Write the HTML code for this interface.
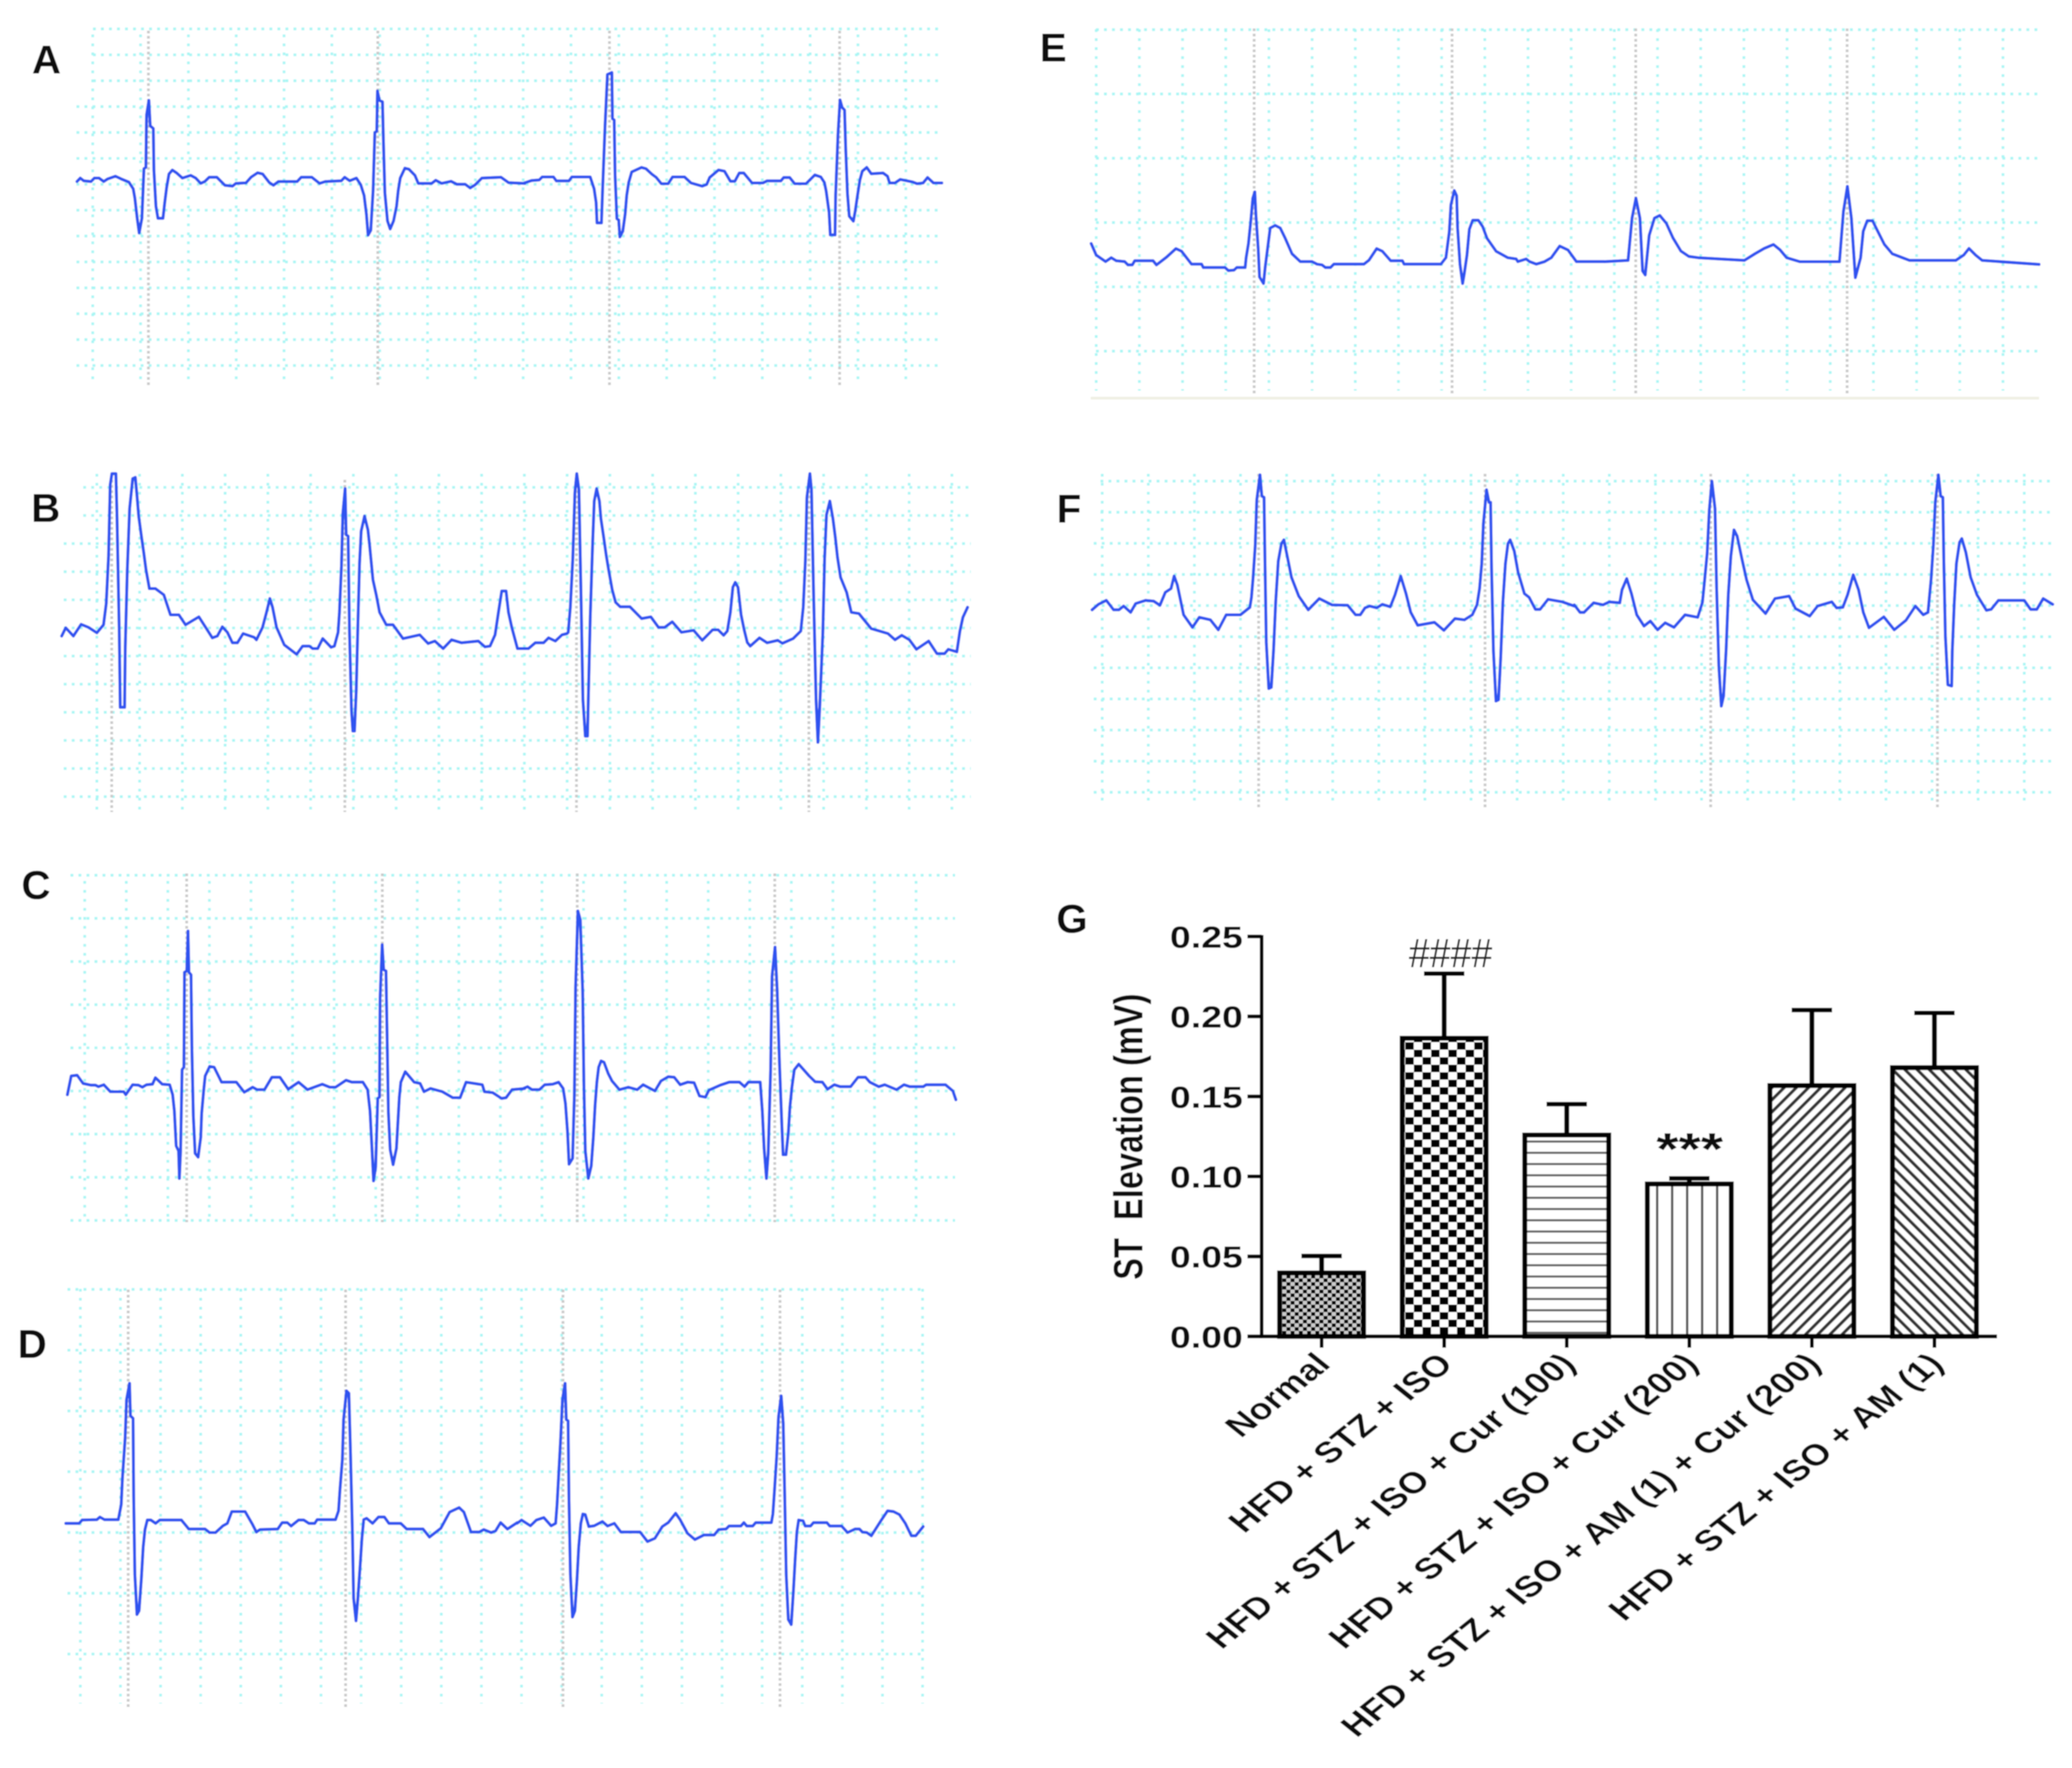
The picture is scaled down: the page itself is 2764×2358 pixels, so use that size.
<!DOCTYPE html>
<html lang="en">
<head>
<meta charset="utf-8">
<title>ECG traces and ST elevation chart</title>
<style>
html,body{margin:0;padding:0;background:#fff;}
svg{display:block;}
text{font-family:"Liberation Sans",Arial,sans-serif;}
.panel-letter{font-weight:700;font-size:54px;fill:#111;}
</style>
</head>
<body>
<svg id="figure" xmlns="http://www.w3.org/2000/svg" width="2764" height="2358" viewBox="0 0 2764 2358">
  <defs>
    <filter id="soft" x="0" y="0" width="100%" height="100%" filterUnits="objectBoundingBox"><feGaussianBlur stdDeviation="0.9"/></filter>
    <pattern id="fill-fine-check" patternUnits="userSpaceOnUse" width="11" height="10">
      <rect width="11" height="10" fill="#ccc"/><rect width="5.5" height="5" fill="#000"/><rect x="5.5" y="5" width="5.5" height="5" fill="#000"/>
    </pattern>
    <pattern id="fill-coarse-check" patternUnits="userSpaceOnUse" width="23" height="20">
      <rect width="23" height="20" fill="#fff"/><rect width="11.5" height="10" fill="#000"/><rect x="11.5" y="10" width="11.5" height="10" fill="#000"/>
    </pattern>
    <pattern id="fill-horizontal" patternUnits="userSpaceOnUse" width="10" height="15">
      <rect width="10" height="15" fill="#fff"/><rect y="6" width="10" height="3" fill="#666"/>
    </pattern>
    <pattern id="fill-vertical" patternUnits="userSpaceOnUse" width="20" height="10">
      <rect width="20" height="10" fill="#fff"/><rect x="9" width="3.2" height="10" fill="#555"/>
    </pattern>
    <pattern id="fill-diag-up" patternUnits="userSpaceOnUse" width="11.5" height="11.5" patternTransform="rotate(45)">
      <rect width="11.5" height="11.5" fill="#fff"/><rect x="4" width="4.2" height="11.5" fill="#333"/>
    </pattern>
    <pattern id="fill-diag-down" patternUnits="userSpaceOnUse" width="11.5" height="11.5" patternTransform="rotate(-45)">
      <rect width="11.5" height="11.5" fill="#fff"/><rect x="4" width="4.2" height="11.5" fill="#333"/>
    </pattern>
  </defs>
  <g id="root" filter="url(#soft)">
    <rect x="0" y="0" width="2764" height="2358" fill="#fff"/>
    <g id="ecg-layer"></g>
    <g id="letters">
      <text class="panel-letter" x="62" y="98" text-anchor="middle">A</text>
      <text class="panel-letter" x="61" y="696" text-anchor="middle">B</text>
      <text class="panel-letter" x="48" y="1199" text-anchor="middle">C</text>
      <text class="panel-letter" x="43" y="1811" text-anchor="middle">D</text>
      <text class="panel-letter" x="1405" y="82" text-anchor="middle">E</text>
      <text class="panel-letter" x="1426" y="697" text-anchor="middle">F</text>
      <text class="panel-letter" x="1430" y="1244" text-anchor="middle">G</text>
    </g>
    <g id="bar-chart"></g>
  </g>
</svg>
<script>
/* ---------- ECG samples: [time ms, amplitude uV] ---------- */
const traceA1=[[230,322],[240,335],[250,325],[272,322],[282,335],[296,335],[310,322],[322,332],[345,342],[362,332],[385,320],[398,295],[403,260],[410,185],[416,130],[424,185],[430,370],[436,375],[438,570],[445,625],[449,530],[458,520],[460,365],[466,230],[472,185],[487,185],[492,240],[498,300],[505,350],[515,365],[527,355],[545,335],[570,345],[585,335],[600,315],[612,322],[625,338],[648,338],[672,308],[695,305],[705,315],[735,317],[750,338],[770,355],[785,350],[805,318],[817,308],[832,322],[888,322],[900,338],[932,338],[955,315],[972,322],[1020,325],[1030,338],[1045,325],[1065,335],[1078,310],[1088,270],[1095,200],[1100,122],[1108,140],[1115,288],[1120,505],[1126,510],[1128,660],[1134,625],[1143,620],[1146,460],[1150,280],[1158,175],[1166,145],[1176,175],[1185,230],[1190,288],[1196,335],[1210,372],[1222,368],[1240,345],[1250,315],[1290,315],[1302,327],[1320,315],[1348,323],[1365,312],[1390,312],[1405,298],[1420,310],[1440,335],[1497,338],[1520,318],[1568,315]];
const traceA2=[[100,448],[125,458],[150,460],[160,472],[198,472],[208,456],[250,456],[260,472],[322,472],[335,425],[342,370],[345,288],[360,288],[364,425],[372,675],[380,882],[395,890],[397,705],[403,700],[406,480],[412,305],[418,300],[422,232],[432,255],[440,325],[445,398],[452,450],[462,492],[495,510],[510,505],[530,483],[545,470],[562,445],[585,445],[600,472],[640,472],[662,448],[700,435],[715,442],[725,470],[755,500],[775,495],[795,455],[810,455],[825,488],[840,488],[868,448],[905,448],[918,456],[965,456],[975,470],[995,470],[1012,445],[1050,445],[1080,480],[1100,472],[1112,450],[1118,415],[1128,330],[1132,240],[1148,240],[1150,400],[1158,645],[1165,780],[1172,750],[1180,740],[1184,580],[1190,405],[1196,315],[1210,295],[1216,335],[1224,400],[1232,460],[1240,495],[1255,510],[1270,485],[1310,488],[1325,475],[1332,448],[1350,448],[1368,462],[1410,452],[1425,445],[1445,448],[1460,470],[1480,448],[1508,448]];
const traceB1=[[50,315],[62,348],[85,315],[108,362],[130,350],[155,328],[175,360],[183,445],[190,635],[195,920],[200,965],[212,965],[215,805],[222,330],[225,30],[238,30],[240,270],[246,580],[253,825],[262,945],[270,950],[275,875],[280,795],[288,715],[295,650],[302,580],[312,505],[330,505],[355,480],[375,400],[400,400],[420,360],[460,392],[480,350],[500,308],[515,315],[530,352],[545,330],[560,288],[575,288],[592,325],[625,310],[632,300],[650,350],[662,410],[672,465],[680,430],[692,350],[715,280],[752,242],[770,275],[790,275],[800,265],[815,265],[830,305],[855,270],[865,275],[876,330],[880,410],[886,595],[890,805],[897,905],[900,720],[906,715],[910,330],[916,15],[920,-65],[925,-65],[930,95],[935,360],[940,605],[945,735],[955,795],[965,740],[970,680],[980,540],[990,480],[1000,410],[1020,360],[1040,360],[1070,305],[1120,320],[1145,285],[1165,295],[1190,265],[1215,300],[1245,288],[1295,295],[1315,272],[1330,275],[1345,320],[1355,410],[1365,495],[1378,495],[1385,410],[1395,350],[1412,265],[1445,265],[1465,288],[1490,288],[1505,308],[1525,295],[1545,320],[1560,325]];
const traceB2=[[240,330],[247,430],[255,625],[262,890],[268,965],[275,900],[282,470],[288,60],[296,-85],[303,-85],[306,75],[312,395],[320,690],[325,855],[333,905],[342,855],[347,785],[356,710],[364,640],[372,580],[384,500],[395,450],[410,432],[442,432],[480,385],[510,392],[535,350],[555,350],[580,372],[610,330],[650,338],[678,298],[712,340],[730,340],[748,318],[760,335],[770,410],[778,510],[786,530],[795,510],[805,400],[815,340],[825,290],[835,275],[865,308],[890,288],[925,298],[940,286],[975,305],[1000,335],[1008,430],[1015,615],[1020,870],[1030,965],[1035,900],[1042,485],[1050,60],[1056,-110],[1062,30],[1072,325],[1078,625],[1084,800],[1095,855],[1105,785],[1113,710],[1120,630],[1130,550],[1150,490],[1165,410],[1190,405],[1230,345],[1285,325],[1308,300],[1330,318],[1355,300],[1378,262],[1418,295],[1445,245],[1470,245],[1482,262],[1510,252],[1520,335],[1530,390],[1545,430]];
const traceC1=[[25,100],[38,175],[58,178],[78,145],[105,138],[120,138],[130,132],[148,140],[170,112],[215,112],[222,100],[245,140],[265,138],[278,130],[292,140],[312,142],[322,168],[345,142],[370,140],[380,100],[386,35],[392,-105],[400,-125],[403,-235],[407,-125],[412,200],[418,210],[420,590],[428,595],[432,755],[435,590],[442,580],[445,280],[450,15],[456,-135],[466,-150],[475,-70],[478,25],[485,120],[490,175],[505,213],[520,210],[545,150],[595,150],[622,110],[650,130],[665,120],[690,120],[715,170],[742,170],[770,122],[805,150],[835,120],[885,142],[910,130],[930,130],[965,158],[985,150],[1022,150],[1038,120],[1046,35],[1052,-105],[1058,-245],[1065,-190],[1072,85],[1078,90],[1080,485],[1087,700],[1092,600],[1100,595],[1104,315],[1108,30],[1114,-120],[1124,-180],[1135,-115],[1140,-10],[1145,90],[1150,150],[1165,192],[1195,150],[1215,145],[1228,112],[1250,125],[1290,112],[1325,88],[1350,88],[1370,150],[1425,140],[1432,112],[1460,108],[1490,85],[1505,88],[1525,120],[1568,125]];
const traceC2=[[40,122],[60,132],[75,120],[100,120],[118,140],[145,142],[165,150],[180,125],[188,65],[195,-50],[200,-178],[212,-155],[218,100],[222,530],[230,835],[238,800],[246,510],[250,140],[255,-125],[265,-235],[275,-185],[282,-70],[288,60],[294,150],[300,210],[308,235],[318,230],[332,185],[345,155],[370,120],[400,130],[430,120],[450,140],[490,115],[510,155],[535,172],[555,170],[575,140],[600,150],[622,148],[640,95],[660,90],[672,118],[710,138],[740,150],[775,150],[792,132],[805,150],[845,150],[852,35],[858,-115],[866,-235],[872,-135],[880,200],[885,575],[895,690],[902,520],[910,225],[918,-25],[922,-140],[932,-140],[940,-50],[945,50],[952,130],[960,200],[975,222],[1010,175],[1030,152],[1055,150],[1072,122],[1095,140],[1115,132],[1150,132],[1175,170],[1200,170],[1215,150],[1245,132],[1265,140],[1305,120],[1330,140],[1350,132],[1395,132],[1405,140],[1470,140],[1495,115],[1505,80]];
const traceD1=[[45,185],[90,185],[100,198],[150,200],[160,210],[175,200],[222,200],[232,260],[236,365],[245,525],[250,680],[260,745],[263,615],[272,605],[274,295],[278,-20],[285,-180],[292,-165],[300,-35],[306,90],[312,160],[320,198],[332,198],[348,185],[362,198],[435,198],[460,162],[515,162],[530,148],[550,148],[575,175],[590,185],[605,232],[650,232],[675,180],[688,150],[700,160],[760,162],[775,188],[792,188],[805,174],[830,198],[848,198],[865,185],[885,185],[893,200],[955,200],[965,235],[970,320],[978,440],[982,600],[992,715],[1000,705],[1005,485],[1012,150],[1016,-115],[1024,-205],[1030,-120],[1038,15],[1044,125],[1050,200],[1060,205],[1080,185],[1100,210],[1120,210],[1135,185],[1175,185],[1195,162],[1250,162],[1272,130],[1310,165],[1340,230],[1372,248],[1388,230],[1412,150],[1440,150],[1455,160],[1480,148],[1495,155],[1512,188],[1535,162],[1568,188]];
const traceD2=[[50,185],[65,198],[95,175],[115,198],[140,208],[165,175],[180,185],[185,260],[190,370],[197,525],[203,680],[212,745],[216,600],[222,595],[225,280],[230,-20],[237,-190],[245,-165],[252,-45],[258,90],[265,185],[272,222],[280,220],[292,172],[310,175],[338,192],[355,174],[378,185],[400,150],[465,150],[490,112],[515,125],[540,172],[560,188],[585,225],[600,200],[625,145],[650,120],[680,138],[715,138],[730,160],[755,162],[765,174],[805,174],[815,188],[825,174],[845,174],[855,188],[908,188],[913,222],[918,310],[926,455],[932,610],[941,695],[948,585],[953,295],[958,-20],[965,-200],[975,-220],[982,-90],[988,40],[994,150],[1000,198],[1015,195],[1022,174],[1040,174],[1050,188],[1095,188],[1105,174],[1145,174],[1165,148],[1190,162],[1205,162],[1215,150],[1230,148],[1245,135],[1280,200],[1300,235],[1320,232],[1340,220],[1360,185],[1380,135],[1395,135],[1420,172]];
const traceE1=[[35,115],[50,70],[78,45],[95,60],[110,48],[135,45],[145,32],[158,32],[165,48],[220,48],[230,32],[260,62],[288,95],[305,85],[335,35],[365,35],[370,22],[435,22],[445,10],[462,12],[470,22],[495,22],[498,60],[505,115],[512,205],[518,290],[524,315],[527,230],[534,95],[538,-15],[550,-40],[555,25],[562,95],[570,175],[585,185],[600,175],[615,135],[635,75],[660,45],[695,45],[710,35],[725,32],[735,22],[750,22],[760,35],[850,35],[865,50],[888,95],[905,85],[930,48],[965,48],[970,35],[1080,35],[1095,60],[1105,160],[1110,265],[1120,320],[1127,300],[1130,175],[1137,35],[1145,-40],[1150,0],[1158,70],[1165,170],[1175,205],[1192,205],[1205,180],[1218,135],[1245,85],[1280,60],[1305,55],[1310,45],[1335,55],[1345,45],[1365,35],[1390,45],[1410,60],[1435,105],[1460,90],[1485,45],[1568,45]];
const traceE2=[[1214,802],[1232,803],[1235,835],[1238,850],[1241,835],[1243,795],[1245,792],[1248,822],[1252,835],[1256,837],[1261,831],[1266,820],[1272,810],[1278,806],[1285,805],[1320,803],[1328,808],[1335,812],[1342,815],[1347,811],[1352,805],[1362,802],[1392,802],[1395,840],[1398,859],[1401,835],[1404,790],[1408,805],[1410,825],[1413,833],[1417,833],[1421,825],[1426,815],[1432,808],[1445,803],[1480,803],[1486,807],[1490,812],[1495,807],[1500,803],[1543,800]];
const traceF1=[[40,420],[60,442],[85,458],[108,420],[125,420],[140,435],[162,410],[178,445],[210,458],[235,455],[255,438],[272,490],[290,505],[300,555],[310,520],[320,460],[330,400],[358,350],[380,390],[415,380],[440,340],[465,400],[510,400],[540,430],[545,470],[550,545],[557,675],[562,860],[572,960],[578,875],[585,870],[588,605],[592,290],[600,105],[608,110],[615,260],[622,455],[630,615],[640,685],[648,700],[660,625],[672,550],[695,475],[725,420],[760,465],[800,440],[850,438],[875,400],[890,400],[905,428],[920,435],[942,428],[960,442],[985,432],[1000,480],[1018,555],[1035,485],[1050,410],[1072,358],[1125,370],[1155,338],[1190,385],[1220,380],[1245,400],[1260,440],[1268,505],[1275,605],[1280,765],[1290,900],[1298,850],[1303,850],[1306,585],[1312,255],[1320,55],[1328,60],[1335,230],[1342,450],[1350,605],[1358,685],[1365,700],[1378,655],[1390,570],[1410,485],[1425,470],[1445,422],[1460,422],[1485,462],[1530,452],[1568,435]];
const traceF2=[[24,440],[42,410],[55,410],[85,448],[115,440],[135,452],[168,448],[175,500],[190,545],[205,485],[222,400],[245,355],[265,375],[288,340],[312,368],[340,350],[375,400],[415,390],[430,450],[436,525],[445,645],[452,820],[460,935],[470,825],[475,510],[482,195],[490,35],[497,75],[505,260],[512,480],[520,635],[530,740],[540,715],[555,625],[570,540],[590,460],[630,405],[660,465],[705,475],[725,425],[770,395],[795,435],[840,452],[855,428],[875,430],[890,480],[908,560],[925,500],[940,410],[958,348],[1005,392],[1038,340],[1075,378],[1105,435],[1130,400],[1145,410],[1155,545],[1162,680],[1168,850],[1178,960],[1185,875],[1192,870],[1195,615],[1200,315],[1208,120],[1220,115],[1222,255],[1228,445],[1235,605],[1245,690],[1252,705],[1265,650],[1280,550],[1300,480],[1330,418],[1345,422],[1368,458],[1450,458],[1470,422],[1490,422],[1510,465],[1540,442]];

/* ---------- Bar chart data ---------- */
const groupLabels=["Normal","HFD + STZ + ISO","HFD + STZ + ISO + Cur (100)","HFD + STZ + ISO + Cur (200)","HFD + STZ + ISO + AM (1) + Cur (200)","HFD + STZ + ISO + AM (1)"];
const stElevation=[0.0397,0.1864,0.1259,0.0953,0.1568,0.168];
const errorUpper=[0.0106,0.0404,0.0193,0.0035,0.0472,0.0342];
const yTickValues=[0,0.05,0.1,0.15,0.2,0.25];
const yTickLabels=["0.00","0.05","0.10","0.15","0.20","0.25"];

const NS='http://www.w3.org/2000/svg';
function mk(tag,attrs,parent){
  const n=document.createElementNS(NS,tag);
  for(const k in attrs){n.setAttribute(k,attrs[k]);}
  if(parent){parent.appendChild(n);}
  return n;
}
const ecgLayer=document.getElementById('ecg-layer');

/* x axis: time -> page; y axis: amplitude -> page */
function timeAxis(origin,scale){return t=>origin+t*scale;}
function ampAxis(top,scale){return v=>top+(1000-v)*scale;}

function drawPanel(id,grid,segments){
  const g=mk('g',{},ecgLayer);
  
  
  const gridGroup=mk('g',{stroke:'#a8f6f4',fill:'none','stroke-width':3.6},g);
  
  
  for(let i=0;i<grid.nv;i++){
    const x=grid.x0+i*grid.dx;
    mk('line',{x1:x,x2:x,y1:grid.vTop,y2:grid.vBot,'stroke-dasharray':'3.6 8.4'},gridGroup);
  }
  for(let i=0;i<grid.nh;i++){
    const y=grid.h0+i*grid.dh;
    const left=i<grid.narrow?grid.narrowLeft:grid.left;
    mk('line',{x1:left,x2:grid.right,y1:y,y2:y,'stroke-dasharray':'3.8 6.9'},gridGroup);
  }
  grid.markers.forEach(x=>{
    const m=mk('line',{x1:x,x2:x,y1:grid.mTop,y2:grid.mBot,stroke:'#c9c9c9','stroke-width':3.6,'stroke-dasharray':'3.5 3.5'},g);
    
    
  });
  let d='';
  segments.forEach(seg=>{
    const xs=timeAxis(seg.xo,seg.kx), ys=ampAxis(seg.yo,seg.ky);
    seg.data.forEach(p=>{
      d+=(d?'L':'M')+xs(p[0]).toFixed(1)+' '+ys(p[1]).toFixed(1);
    });
  });
  const path=mk('path',{d:d,fill:'none',stroke:'#2f52f0','stroke-width':4,'stroke-linejoin':'round','stroke-linecap':'round'},g);
  
  
}

drawPanel('a',{x0:123.7,dx:63.8,nv:18,vTop:46,vBot:514,h0:38.6,dh:34.53,nh:14,left:102,narrow:3,narrowLeft:124,right:1256,markers:[198,504,813,1120],mTop:41,mBot:517},
  [{data:traceA1,xo:0,kx:.4464,yo:0,ky:1/2.8},{data:traceA2,xo:660,kx:.3954,yo:60,ky:1/3}]);
drawPanel('b',{x0:129.2,dx:57.03,nv:21,vTop:632,vBot:1080,h0:650,dh:37.5,nh:12,left:85,narrow:2,narrowLeft:111,right:1295,markers:[149,460,769,1079],mTop:640,mBot:1083},
  [{data:traceB1,xo:60,kx:.4464,yo:620,ky:1/3},{data:traceB2,xo:660,kx:.4082,yo:620,ky:1/3}]);
drawPanel('c',{x0:113,dx:55.45,nv:21,vTop:1175,vBot:1628,h0:1167.3,dh:57.55,nh:9,left:94,narrow:0,narrowLeft:94,right:1274,markers:[249,510,770,1033.5],mTop:1165,mBot:1630},
  [{data:traceC1,xo:80,kx:.3954,yo:1160,ky:1/3},{data:traceC2,xo:680,kx:.3954,yo:1160,ky:1/3}]);
drawPanel('d',{x0:107.2,dx:53.5,nv:22,vTop:1719,vBot:2272,h0:1719.7,dh:81.05,nh:7,left:90,narrow:0,narrowLeft:90,right:1231,markers:[171,461,751,1040.5],mTop:1720,mBot:2280},
  [{data:traceD1,xo:70,kx:.3954,yo:1760,ky:1/3},{data:traceD2,xo:670,kx:.3954,yo:1760,ky:1/3}]);
drawPanel('e',{x0:1462.3,dx:57.6,nv:22,vTop:39,vBot:521,h0:39.6,dh:85.74,nh:6,left:1462,narrow:0,narrowLeft:1462,right:2720,markers:[1673,1937,2182,2464],mTop:38,mBot:525},
  [{data:traceE1,xo:1440,kx:.4464,yo:20,ky:1/2.904},{data:traceE2,xo:0,kx:1.7628,yo:0,ky:1.7628}]);
drawPanel('f',{x0:1470.3,dx:61.5,nv:21,vTop:632,vBot:1075,h0:641.7,dh:41.5,nh:11,left:1459,narrow:2,narrowLeft:1468,right:2738,markers:[1679,1981,2282,2584.5],mTop:632,mBot:1078},
  [{data:traceF1,xo:1440,kx:.4209,yo:620,ky:1/3},{data:traceF2,xo:2090,kx:.4209,yo:620,ky:1/3}]);

const ePanel=ecgLayer.children[4];
const eBase=mk('line',{x1:1455,x2:2720,y1:531,y2:531,stroke:'#efefe2','stroke-width':3.5},ePanel);



/* ---------- Bar chart ---------- */
const chart=document.getElementById('bar-chart');
const yZero=1782.4, yPerUnit=2133.6;
const yScale=v=>yZero-v*yPerUnit;
const xFirst=1763, xStep=163.5, barWidth=112;
const xScale=i=>xFirst+i*xStep;
const fills=['fill-fine-check','fill-coarse-check','fill-horizontal','fill-vertical','fill-diag-up','fill-diag-down'];
const stretch=1.25;

stElevation.forEach((v,i)=>{
  const cx=xScale(i), top=yScale(v), errTop=yScale(v+errorUpper[i]);
  const stem=mk('line',{x1:cx,x2:cx,y1:top,y2:errTop,stroke:'#000','stroke-width':6.5},chart);
  
  
  const cap=mk('line',{x1:cx-27,x2:cx+27,y1:errTop,y2:errTop,stroke:'#000','stroke-width':6},chart);
  
  
  const bar=mk('rect',{x:cx-barWidth/2,y:top,width:barWidth,height:yZero-top,fill:'url(#'+fills[i]+')',stroke:'#000','stroke-width':6.5},chart);
  
  
  const tick=mk('line',{x1:cx,x2:cx,y1:yZero,y2:yZero+15,stroke:'#000','stroke-width':5},chart);
  
  
  const label=mk('text',{transform:'translate('+(cx+14)+','+(yZero+39)+') scale('+stretch+',1) rotate(-45)','text-anchor':'end','font-size':40,'font-weight':700,fill:'#111'},chart);
  label.textContent=groupLabels[i];
  
  
});

const yAxis=mk('line',{x1:1683,x2:1683,y1:yScale(0.25)-2,y2:yZero+2,stroke:'#000','stroke-width':5},chart);


const xAxis=mk('line',{x1:1681,x2:2664,y1:yZero,y2:yZero,stroke:'#000','stroke-width':5},chart);



yTickValues.forEach((v,i)=>{
  const y=yScale(v);
  const t=mk('line',{x1:1664,x2:1683,y1:y,y2:y,stroke:'#000','stroke-width':5},chart);
  
  
  const lab=mk('text',{transform:'translate(1658,'+(y+15)+') scale(1.22,1)','text-anchor':'end','font-size':41,'font-weight':700,fill:'#111'},chart);
  lab.textContent=yTickLabels[i];
  
  
});
</script>
<script>
(function(){
  const host=document.getElementById('bar-chart');
  const ns='http://www.w3.org/2000/svg';
  const title=document.createElementNS(ns,'text');
  title.setAttribute('transform','translate(1524,1516) scale(1.25,1) rotate(-90)');
  title.setAttribute('text-anchor','middle');
  title.setAttribute('font-size','43.5');
  title.setAttribute('font-weight','700');
  title.setAttribute('fill','#111');
  title.setAttribute('xml:space','preserve');
  title.style.whiteSpace='pre';
  title.textContent='ST  Elevation (mV)';
  
  
  host.appendChild(title);
  const hash=document.createElementNS(ns,'text');
  hash.setAttribute('transform','translate(1935,1290) scale(.91,1)');
  hash.setAttribute('text-anchor','middle');
  hash.setAttribute('font-size','55');
  hash.setAttribute('fill','#222');
  hash.textContent='####';
  
  
  host.appendChild(hash);
  const stars=document.createElementNS(ns,'text');
  stars.setAttribute('transform','translate(2254,1553) scale(1.27,1)');
  stars.setAttribute('text-anchor','middle');
  stars.setAttribute('font-size','60');
  stars.setAttribute('font-weight','700');
  stars.setAttribute('fill','#111');
  stars.textContent='***';
  
  
  host.appendChild(stars);
})();
</script>
</body>
</html>
